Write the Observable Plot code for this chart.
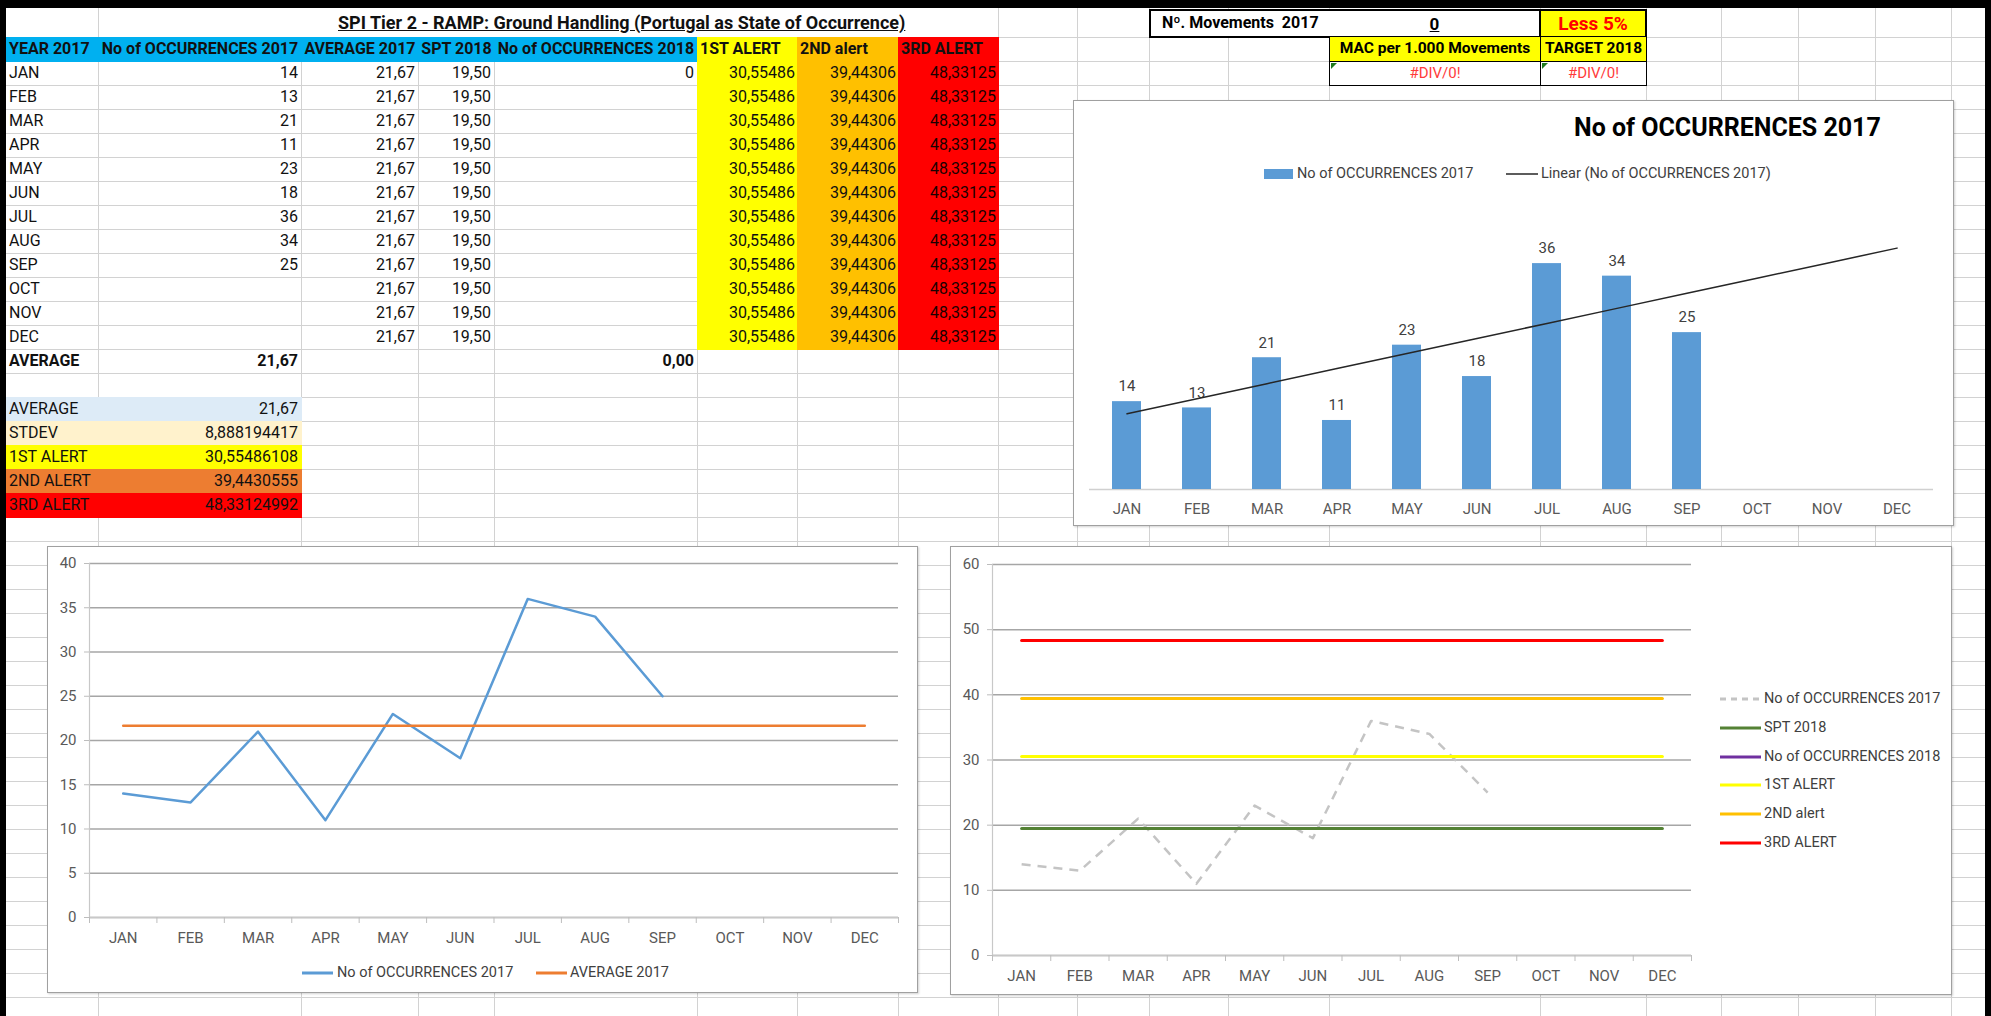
<!DOCTYPE html>
<html><head><meta charset="utf-8">
<script src="https://cdn.jsdelivr.net/npm/d3@7"></script>
<script src="https://cdn.jsdelivr.net/npm/@observablehq/plot@0.6"></script>
<style>
html,body{margin:0;padding:0;background:#fff;}
body{width:1991px;height:1016px;position:relative;overflow:hidden;font-family:"Liberation Sans Narrow","Arial Narrow","Roboto","Liberation Sans",sans-serif;}
.a{position:absolute;box-sizing:border-box;}
.cell{position:absolute;box-sizing:border-box;line-height:24px;font-size:16px;white-space:nowrap;color:#111;padding:0 3px;}
.hl{position:absolute;height:1px;background:#d2d2d2;}
.vl{position:absolute;width:1px;background:#d2d2d2;}
.chart{position:absolute;box-sizing:border-box;background:#fff;border:1px solid #a0a0a0;box-shadow:1px 1px 2px rgba(0,0,0,0.18);}
.lg{position:absolute;font-size:14.5px;color:#404040;white-space:nowrap;line-height:18px;}
</style></head><body>
<script>
// ---------- data ----------
const months = ["JAN","FEB","MAR","APR","MAY","JUN","JUL","AUG","SEP","OCT","NOV","DEC"];
const occ2017 = [14,13,21,11,23,18,36,34,25,null,null,null];
const avg2017 = [21.67,21.67,21.67,21.67,21.67,21.67,21.67,21.67,21.67,21.67,21.67,21.67];
const spt2018 = [19.5,19.5,19.5,19.5,19.5,19.5,19.5,19.5,19.5,19.5,19.5,19.5];
const occ2018 = [0,null,null,null,null,null,null,null,null,null,null,null];
const alert1 = [30.55486108,30.55486108,30.55486108,30.55486108,30.55486108,30.55486108,30.55486108,30.55486108,30.55486108,30.55486108,30.55486108,30.55486108];
const alert2 = [39.4430555,39.4430555,39.4430555,39.4430555,39.4430555,39.4430555,39.4430555,39.4430555,39.4430555,39.4430555,39.4430555,39.4430555];
const alert3 = [48.33124992,48.33124992,48.33124992,48.33124992,48.33124992,48.33124992,48.33124992,48.33124992,48.33124992,48.33124992,48.33124992,48.33124992];
const headers = ["YEAR 2017","No of OCCURRENCES 2017","AVERAGE 2017","SPT 2018","No of OCCURRENCES 2018","1ST ALERT","2ND alert","3RD ALERT"];
const averageRow = {label:"AVERAGE", occ2017:21.67, occ2018:0.00};
const statLabels = ["AVERAGE","STDEV","1ST ALERT","2ND ALERT","3RD ALERT"];
const statValues = ["21,67","8,888194417","30,55486108","39,4430555","48,33124992"];
const title = "SPI Tier 2 - RAMP: Ground Handling (Portugal as State of Occurrence)";
const chartTitle = "No of OCCURRENCES 2017";
const series2017 = "No of OCCURRENCES 2017";
const series2018 = "No of OCCURRENCES 2018";

// ---------- layout ----------
const FONT = '"Liberation Sans Narrow","Arial Narrow","Roboto","Liberation Sans",sans-serif';
const colX = [6,98,301,418,494,697,797,898,998,1077,1149,1228,1329,1540,1646,1721,1798,1875,1951,1985];
const ROW0 = 37, RH = 24;
const rowTop = k => ROW0 + RH*k;
const body = document.body;
function el(cls, css, html){const d=document.createElement("div");d.className=cls;Object.assign(d.style,css);if(html!=null)d.innerHTML=html;body.appendChild(d);return d;}
const px = v => v+"px";

// sheet gridlines
for(let k=0;k<=41;k++) el("hl",{left:"6px",width:"1979px",top:px(rowTop(k))});
for(let i=1;i<colX.length-1;i++) el("vl",{left:px(colX[i]),top:"8px",height:"1008px"});

function cell(c0,c1,k,text,o={}){
  const x0=colX[c0], x1=colX[c1];
  const css={left:px(x0),width:px(x1-x0+(o.bg?1:0)),top:px(rowTop(k)),height:px(RH+(o.bg?1:0)),textAlign:o.align||"left"};
  if(o.bg) css.background=o.bg;
  if(o.bold) css.fontWeight="bold";
  if(o.color) css.color=o.color;
  if(o.size) css.fontSize=px(o.size);
  return el("cell",css,text);
}
const fmt = (v,d) => v==null ? "" : d3.format("."+d+"f")(v).replace(".",",");

// title row (merged)
el("a",{left:"99px",top:"8px",width:"898px",height:"29px",background:"#fff"});
el("a",{left:"338px",top:"8px",height:"29px",lineHeight:"30px",fontSize:"18px",fontWeight:"bold",textDecoration:"underline",whiteSpace:"nowrap",color:"#111"},title);

// header row
const hdrBg=["#00B0F0","#00B0F0","#00B0F0","#00B0F0","#00B0F0","#FFFF00","#FFC000","#FF0000"];
const hdrAl=["left","center","center","center","center","left","left","left"];
headers.forEach((h,i)=>cell(i,i+1,0,h,{bg:hdrBg[i],bold:true,align:hdrAl[i],size:16}));

// monthly rows
months.forEach((m,i)=>{
  const k=i+1;
  cell(0,1,k,m);
  cell(1,2,k,occ2017[i]==null?"":String(occ2017[i]),{align:"right"});
  cell(2,3,k,fmt(avg2017[i],2),{align:"right"});
  cell(3,4,k,fmt(spt2018[i],2),{align:"right"});
  cell(4,5,k,occ2018[i]==null?"":String(occ2018[i]),{align:"right"});
  cell(5,6,k,fmt(alert1[i],5),{align:"right",bg:"#FFFF00"});
  cell(6,7,k,fmt(alert2[i],5),{align:"right",bg:"#FFC000"});
  cell(7,8,k,fmt(alert3[i],5),{align:"right",bg:"#FF0000",color:"#1a0000"});
});
cell(0,1,13,averageRow.label,{bold:true});
cell(1,2,13,fmt(averageRow.occ2017,2),{bold:true,align:"right"});
cell(4,5,13,fmt(averageRow.occ2018,2),{bold:true,align:"right"});

const statBg=["#DDEBF7","#FFF2CC","#FFFF00","#ED7D31","#FF0000"];
statLabels.forEach((l,i)=>{
  cell(0,2,15+i,"",{bg:statBg[i]});
  cell(0,1,15+i,l);
  cell(1,2,15+i,statValues[i],{align:"right"});
});

// top-right info box
el("a",{left:"1149px",top:"9px",width:"392px",height:"29px",background:"#fff",border:"2.5px solid #000"});
el("a",{left:"1162px",top:"9px",height:"29px",lineHeight:"28px",fontSize:"16px",fontWeight:"bold",whiteSpace:"nowrap"},"Nº. Movements&nbsp; 2017");
el("a",{left:"1329px",top:"9px",width:"211px",height:"29px",lineHeight:"30px",fontSize:"17px",fontWeight:"bold",textAlign:"center",textDecoration:"underline"},"0");
el("a",{left:"1539px",top:"9px",width:"108px",height:"29px",lineHeight:"25px",background:"#FFFF00",border:"2.5px solid #000",fontSize:"19px",fontWeight:"bold",color:"#FF0000",textAlign:"center"},"Less 5%");
el("a",{left:"1329px",top:"37px",width:"212px",height:"25px",lineHeight:"22px",background:"#FFFF00",border:"1.5px solid #000",borderTop:"none",fontSize:"15.5px",fontWeight:"bold",textAlign:"center",whiteSpace:"nowrap"},"MAC per 1.000 Movements");
el("a",{left:"1540px",top:"37px",width:"107px",height:"25px",lineHeight:"22px",background:"#FFFF00",border:"1.5px solid #000",borderTop:"none",fontSize:"15.5px",fontWeight:"bold",textAlign:"center",whiteSpace:"nowrap"},"TARGET 2018");
el("a",{left:"1329px",top:"61px",width:"212px",height:"25px",lineHeight:"22px",background:"#fff",border:"1.5px solid #000",fontSize:"15px",color:"#FF3B3B",textAlign:"center"},"#DIV/0!");
el("a",{left:"1540px",top:"61px",width:"107px",height:"25px",lineHeight:"22px",background:"#fff",border:"1.5px solid #000",fontSize:"15px",color:"#FF3B3B",textAlign:"center"},"#DIV/0!");
[1331,1542].forEach(x=>el("a",{left:px(x),top:"63px",width:"0",height:"0",borderTop:"6px solid #1f7a1f",borderRight:"6px solid transparent"}));

// ---------- chart helpers ----------
function place(svg,left,top){svg.style.position="absolute";svg.style.left=px(left);svg.style.top=px(top);svg.style.overflow="visible";body.appendChild(svg);}
const baseStyle = {fontFamily:FONT,fontSize:"15px",color:"#595959",background:"transparent",overflow:"visible"};
function legendLine(x,y,w,color,width,dash){
  const s=`<svg width="${w}" height="8" style="position:absolute;left:${x}px;top:${y-4}px;overflow:visible"><line x1="0" x2="${w}" y1="4" y2="4" stroke="${color}" stroke-width="${width}" ${dash?`stroke-dasharray="${dash}"`:""}/></svg>`;
  el("a",{left:"0",top:"0"},s);
}
function legendText(x,y,t){el("lg",{left:px(x),top:px(y-9)},t);}

// ---------- chart 1: bars ----------
el("chart",{left:"1073px",top:"100px",width:"881px",height:"426px"});
el("a",{left:"1574px",top:"112px",height:"32px",lineHeight:"32px",fontSize:"25px",fontWeight:"bold",color:"#000",whiteSpace:"nowrap"},chartTitle);
el("a",{left:"1264px",top:"169px",width:"29px",height:"10px",background:"#5B9BD5"});
legendText(1297,174,series2017);
legendLine(1506,174,32,"#262626",1.5);
legendText(1541,174,"Linear ("+series2017+")");

const barData = months.map((m,i)=>({month:m,value:occ2017[i]}));
const known = barData.map((d,i)=>({x:i+1,y:d.value})).filter(d=>d.y!=null);
const mx=d3.mean(known,d=>d.x), my=d3.mean(known,d=>d.y);
const slope=d3.sum(known,d=>(d.x-mx)*(d.y-my))/d3.sum(known,d=>(d.x-mx)**2);
const icpt=my-slope*mx;
const trend = months.map((m,i)=>({month:m,value:icpt+slope*(i+1)}));

const c1 = Plot.plot({
  width:880,height:303,marginLeft:16,marginRight:20,marginTop:18,marginBottom:34,
  style:baseStyle,
  x:{domain:months,paddingInner:0.59,paddingOuter:0.295,label:null},
  y:{domain:[0,40],axis:null,label:null},
  marks:[
    Plot.ruleY([0],{stroke:"#d0d0d0",strokeWidth:1.5}),
    Plot.barY(barData.filter(d=>d.value!=null),{x:"month",y:"value",fill:"#5B9BD5"}),
    Plot.text(barData.filter(d=>d.value!=null),{x:"month",y:"value",text:d=>String(d.value),dy:-15,fill:"#404040",fontSize:15}),
    Plot.line(trend,{x:"month",y:"value",stroke:"#262626",strokeWidth:1.5}),
    Plot.axisX({tickSize:0,tickPadding:14,color:"#595959",fontSize:15,label:null})
  ]
});
place(c1,1073,220);

// ---------- chart 2: occurrences vs average ----------
el("chart",{left:"47px",top:"546px",width:"871px",height:"447px"});
const idx = months.map((m,i)=>i+0.5);
const occLine = months.map((m,i)=>({x:idx[i],y:occ2017[i]}));
const avgLine = months.map((m,i)=>({x:idx[i],y:avg2017[i]}));
const c2 = Plot.plot({
  width:868,height:400,marginLeft:41,marginRight:18,marginTop:13,marginBottom:33,
  style:baseStyle,
  x:{domain:[0,12],label:null},
  y:{domain:[0,40],label:null},
  marks:[
    Plot.gridY({ticks:8,stroke:"#a6a6a6",strokeOpacity:1,strokeWidth:1.5}),
    Plot.ruleY([0],{stroke:"#c8c8c8",strokeWidth:1.5}),
    Plot.ruleX([0],{stroke:"#c8c8c8",strokeWidth:1.2}),
    Plot.axisY({ticks:8,tickSize:5,tickFormat:()=>"",color:"#bdbdbd",label:null}),
    Plot.axisY({ticks:8,tickSize:0,tickPadding:13,color:"#595959",fontSize:15,label:null}),
    Plot.axisX({ticks:d3.range(0,13),tickSize:6,tickFormat:()=>"",color:"#bdbdbd",label:null}),
    Plot.axisX({ticks:idx,tickSize:0,tickPadding:15,tickFormat:d=>months[Math.floor(d)],color:"#595959",fontSize:15,label:null}),
    Plot.line(occLine,{x:"x",y:"y",stroke:"#5B9BD5",strokeWidth:2.5}),
    Plot.line(avgLine,{x:"x",y:"y",stroke:"#ED7D31",strokeWidth:2.5})
  ]
});
place(c2,48,550);
legendLine(302,973,31,"#5B9BD5",3);
legendText(337,973,series2017);
legendLine(536,973,31,"#ED7D31",3);
legendText(570,973,"AVERAGE 2017");

// ---------- chart 3: alerts ----------
el("chart",{left:"950px",top:"546px",width:"1002px",height:"449px"});
const line3 = arr => months.map((m,i)=>({x:idx[i],y:arr[i]}));
const c3 = Plot.plot({
  width:760,height:440,marginLeft:41,marginRight:20,marginTop:14,marginBottom:35,
  style:baseStyle,
  x:{domain:[0,12],label:null},
  y:{domain:[0,60],label:null},
  marks:[
    Plot.gridY({ticks:6,stroke:"#a6a6a6",strokeOpacity:1,strokeWidth:1.5}),
    Plot.ruleY([0],{stroke:"#c8c8c8",strokeWidth:1.5}),
    Plot.ruleX([0],{stroke:"#c8c8c8",strokeWidth:1.2}),
    Plot.axisY({ticks:6,tickSize:5,tickFormat:()=>"",color:"#bdbdbd",label:null}),
    Plot.axisY({ticks:6,tickSize:0,tickPadding:13,color:"#595959",fontSize:15,label:null}),
    Plot.axisX({ticks:d3.range(0,13),tickSize:6,tickFormat:()=>"",color:"#bdbdbd",label:null}),
    Plot.axisX({ticks:idx,tickSize:0,tickPadding:15,tickFormat:d=>months[Math.floor(d)],color:"#595959",fontSize:15,label:null}),
    Plot.line(line3(occ2017),{x:"x",y:"y",stroke:"#c4c4c4",strokeWidth:2.5,strokeDasharray:"9,7",strokeLinecap:"butt"}),
    Plot.line(line3(spt2018),{x:"x",y:"y",stroke:"#548235",strokeWidth:3}),
    Plot.line(line3(occ2018),{x:"x",y:"y",stroke:"#7030A0",strokeWidth:3,strokeLinecap:"butt"}),
    Plot.line(line3(alert1),{x:"x",y:"y",stroke:"#FFFF00",strokeWidth:3}),
    Plot.line(line3(alert2),{x:"x",y:"y",stroke:"#FFC000",strokeWidth:3}),
    Plot.line(line3(alert3),{x:"x",y:"y",stroke:"#FF0000",strokeWidth:3})
  ]
});
place(c3,951,550);
const lg3 = [[series2017,"#c4c4c4","6,5"],["SPT 2018","#548235"],[series2018,"#7030A0"],["1ST ALERT","#FFFF00"],["2ND alert","#FFC000"],["3RD ALERT","#FF0000"]];
lg3.forEach((d,i)=>{const y=699+i*28.8;legendLine(1720,y,41,d[1],3,d[2]);legendText(1764,y,d[0]);});

// black frame
el("a",{left:"0",top:"0",width:"1991px",height:"8px",background:"#000"});
el("a",{left:"0",top:"0",width:"6px",height:"1016px",background:"#000"});
el("a",{left:"1985px",top:"0",width:"6px",height:"1016px",background:"#000"});
</script>
</body></html>
